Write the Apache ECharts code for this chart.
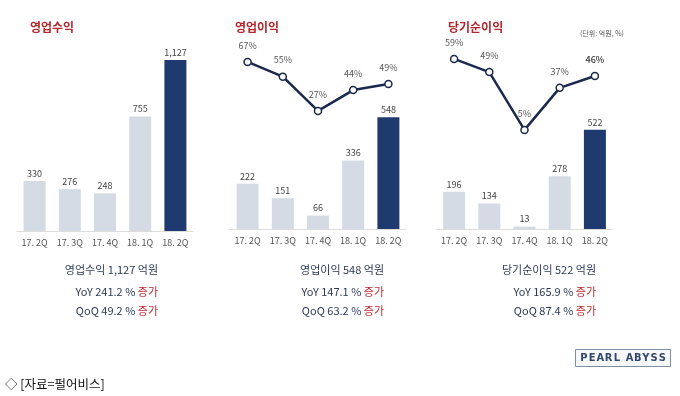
<!DOCTYPE html>
<html><head><meta charset="utf-8">
<script src="https://cdn.jsdelivr.net/npm/echarts@6/dist/echarts.min.js"></script>
<style>html,body{margin:0;padding:0;background:#fff}#c{width:680px;height:396px}</style>
</head><body><div id="c"></div>
<script>
const categories = ['17. 2Q', '17. 3Q', '17. 4Q', '18. 1Q', '18. 2Q'];
const revenue = [330, 276, 248, 755, 1127];
const opProfit = [222, 151, 66, 336, 548];
const netProfit = [196, 134, 13, 278, 522];
const opMargin = [67, 55, 27, 44, 49];
const netMargin = [59, 49, 5, 37, 46];
const panelTitles = ['영업수익', '영업이익', '당기순이익'];
const summaryMain = ['영업수익 1,127 억원', '영업이익 548 억원', '당기순이익 522 억원'];
const summaryYoY = ['YoY 241.2 %', 'YoY 147.1 %', 'YoY 165.9 %'];
const summaryQoQ = ['QoQ 49.2 %', 'QoQ 63.2 %', 'QoQ 87.4 %'];
const increaseWord = '증가';
const unitText = '(단위: 억원, %)';
const sourceText = '◇ [자료=펄어비스]';
const logoWords = ['PEARL', 'ABYSS'];

const FONT = '"Noto Sans CJK KR", "Noto Sans", sans-serif';
const LIGHT = '#d5dbe5', DARK = '#1f3a6e', NAVY = '#1b2a4c';

const chart = echarts.init(document.getElementById('c'));

const barGrids = [
  {left: 17, width: 176, top: 49, height: 182},
  {left: 230, width: 176, top: 106.6, height: 122.4},
  {left: 436.5, width: 176, top: 115, height: 114}
];
const barMax = [1200, 600, 600];
const lineGrids = [
  {left: 230, width: 176, top: 21.5, height: 122.5},
  {left: 436.5, width: 176, top: 5, height: 131.5}
];
const barData = [revenue, opProfit, netProfit];
const lineData = [opMargin, netMargin];

const grids = [], xAxes = [], yAxes = [], series = [];
barGrids.forEach((g, i) => {
  grids.push(g);
  xAxes.push({type: 'category', gridIndex: i, data: categories,
    axisLine: {lineStyle: {color: '#dcdcdc', width: 1}}, axisTick: {show: false},
    axisLabel: {color: '#555', fontSize: 9, fontFamily: FONT, margin: 7}});
  yAxes.push({type: 'value', gridIndex: i, min: 0, max: barMax[i], show: false, splitLine: {show: false}});
  series.push({type: 'bar', xAxisIndex: i, yAxisIndex: i, barWidth: 22,
    data: barData[i],
    itemStyle: {color: p => p.dataIndex === categories.length - 1 ? DARK : LIGHT},
    label: {show: true, position: 'top', distance: 3, color: '#444', fontSize: 9, fontFamily: FONT,
      formatter: p => p.value.toLocaleString('en-US')},
    animation: false});
});
lineGrids.forEach((g, j) => {
  const idx = 3 + j;
  grids.push(g);
  xAxes.push({type: 'category', gridIndex: idx, data: categories, show: false});
  yAxes.push({type: 'value', gridIndex: idx, min: 0, max: 100, show: false, splitLine: {show: false}});
  series.push({type: 'line', xAxisIndex: idx, yAxisIndex: idx,
    data: lineData[j].map((v, k) => (j === 1 && k === lineData[j].length - 1)
      ? {value: v, label: {color: '#333', fontWeight: 500}} : v),
    symbol: 'circle', symbolSize: 7, clip: false,
    lineStyle: {color: NAVY, width: 2.5},
    itemStyle: {color: '#fff', borderColor: NAVY, borderWidth: 1.5},
    label: {show: true, position: 'top', distance: 8, color: '#555', fontSize: 9, fontFamily: FONT,
      formatter: p => p.value + '%'},
    animation: false});
});

const titleX = [25, 230, 443];
const titles = panelTitles.map((t, i) => ({text: t, left: titleX[i], top: 16,
  textStyle: {color: '#b3262c', fontSize: 12, fontWeight: 'bold', fontFamily: FONT}}));

const rightX = [158, 384, 596];
const graphics = [];
rightX.forEach((x, i) => {
  graphics.push({type: 'text', x: x, y: 270, style: {text: summaryMain[i], align: 'right', verticalAlign: 'middle',
    fill: '#2c3a58', font: '11px ' + FONT}});
  graphics.push({type: 'text', x: x, y: 292, style: {text: '{n|' + summaryYoY[i] + '} {r|' + increaseWord + '}',
    align: 'right', verticalAlign: 'middle', font: '11px ' + FONT,
    rich: {n: {fill: '#2c3a58', fontSize: 11, fontFamily: FONT}, r: {fill: '#c0282e', fontSize: 11, fontFamily: FONT}}}});
  graphics.push({type: 'text', x: x, y: 311, style: {text: '{n|' + summaryQoQ[i] + '} {r|' + increaseWord + '}',
    align: 'right', verticalAlign: 'middle', font: '11px ' + FONT,
    rich: {n: {fill: '#2c3a58', fontSize: 11, fontFamily: FONT}, r: {fill: '#c0282e', fontSize: 11, fontFamily: FONT}}}});
});
graphics.push({type: 'text', x: 580, y: 33, style: {text: unitText, verticalAlign: 'middle', fill: '#555', font: '7px ' + FONT}});
graphics.push({type: 'rect', shape: {x: 575.5, y: 349.5, width: 95, height: 17}, style: {fill: '#f6f8fb', stroke: '#7f8ea3', lineWidth: 1}});
let lx = 584;
logoWords.forEach((w) => {
  for (const ch of w) {
    graphics.push({type: 'text', x: lx, y: 358, style: {text: ch, align: 'center', verticalAlign: 'middle',
      fill: '#34496a', font: 'bold 11px "DejaVu Sans Condensed", sans-serif'}});
    lx += 8.2;
  }
  lx += 4.5;
});
graphics.push({type: 'text', x: 5, y: 384, style: {text: sourceText, verticalAlign: 'middle', fill: '#111', font: '12.5px ' + FONT}});

chart.setOption({
  animation: false,
  title: titles,
  grid: grids, xAxis: xAxes, yAxis: yAxes, series: series,
  graphic: graphics
});
</script></body></html>
